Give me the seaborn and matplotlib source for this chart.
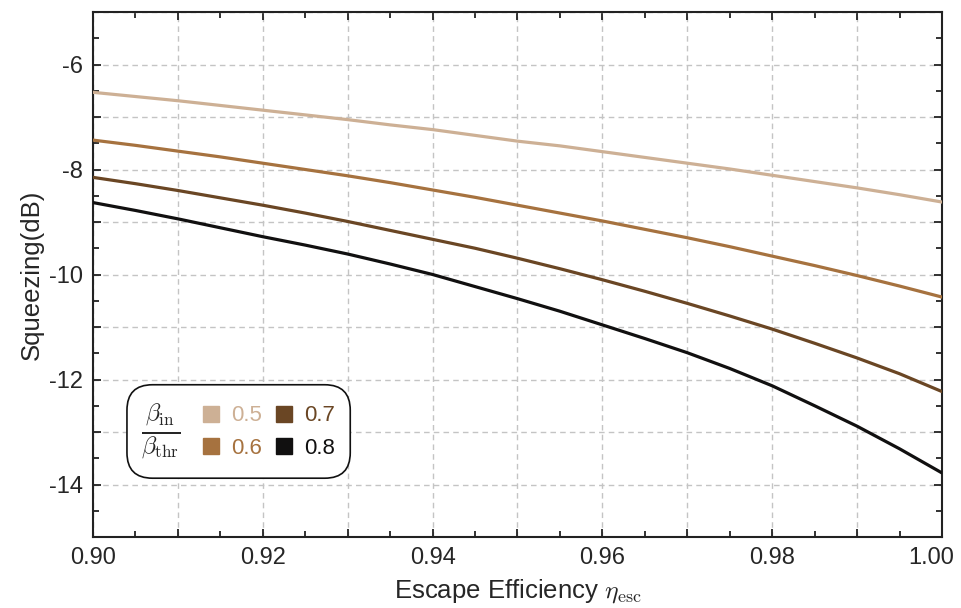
import numpy as np
import pandas as pd
import matplotlib
matplotlib.use("Agg")
import matplotlib.pyplot as plt
from matplotlib.ticker import MultipleLocator, FuncFormatter
from matplotlib.patches import FancyBboxPatch
from matplotlib.lines import Line2D
from matplotlib.transforms import ScaledTranslation
import seaborn as sns

# Escape efficiency samples (step 0.005)
eta_esc = [0.900, 0.905, 0.910, 0.915, 0.920, 0.925, 0.930, 0.935, 0.940, 0.945,
           0.950, 0.955, 0.960, 0.965, 0.970, 0.975, 0.980, 0.985, 0.990, 0.995,
           1.000]

# Squeezing (dB) for each pump ratio beta_in / beta_thr
sq_05 = [-6.53, -6.61, -6.69, -6.78, -6.87, -6.96, -7.05, -7.15, -7.24, -7.35,
         -7.46, -7.55, -7.66, -7.77, -7.88, -7.99, -8.11, -8.23, -8.35, -8.48,
         -8.62]
sq_06 = [-7.44, -7.54, -7.65, -7.76, -7.88, -8.00, -8.12, -8.25, -8.39, -8.53,
         -8.68, -8.83, -8.98, -9.14, -9.30, -9.47, -9.65, -9.83, -10.02, -10.22,
         -10.43]
sq_07 = [-8.15, -8.27, -8.40, -8.54, -8.68, -8.83, -8.99, -9.16, -9.33, -9.50,
         -9.69, -9.89, -10.10, -10.32, -10.55, -10.79, -11.04, -11.31, -11.59,
         -11.89, -12.23]
sq_08 = [-8.63, -8.78, -8.94, -9.11, -9.28, -9.44, -9.61, -9.80, -10.00, -10.23,
         -10.46, -10.70, -10.96, -11.22, -11.49, -11.79, -12.12, -12.50, -12.89,
         -13.32, -13.78]

ratios = ["0.5", "0.6", "0.7", "0.8"]
colors = ["#CDB095", "#A6723F", "#6A4624", "#111010"]

df = pd.DataFrame({
    "eta": eta_esc * 4,
    "sq": sq_05 + sq_06 + sq_07 + sq_08,
    "ratio": [r for r in ratios for _ in eta_esc],
})

sns.set_style("ticks")
plt.rcParams["font.family"] = ["Liberation Sans", "DejaVu Sans"]
plt.rcParams["mathtext.fontset"] = "cm"

fig = plt.figure(figsize=(9.62, 6.08), dpi=100)
ax = fig.add_axes([93 / 962, 1 - 537 / 608, 849 / 962, 525 / 608])

palette = dict(zip(ratios, colors))
sns.lineplot(data=df, x="eta", y="sq", hue="ratio", palette=palette,
             linewidth=2.3, ax=ax, legend=False, zorder=3)

ax.set_xlim(0.90, 1.00)
ax.set_ylim(-15, -5)

ax.xaxis.set_major_locator(MultipleLocator(0.01))
ax.xaxis.set_minor_locator(MultipleLocator(0.005))
ax.yaxis.set_major_locator(MultipleLocator(1))
ax.yaxis.set_minor_locator(MultipleLocator(0.5))


def xfmt(v, pos):
    k = int(round(v * 100))
    return f"{v:.2f}" if k % 2 == 0 else ""


def yfmt(v, pos):
    k = int(round(v))
    return f"{k}" if k % 2 == 0 else ""


ax.xaxis.set_major_formatter(FuncFormatter(xfmt))
ax.yaxis.set_major_formatter(FuncFormatter(yfmt))

ax.tick_params(which="both", direction="in", top=True, right=True,
               color="#222222", width=1.3)
ax.tick_params(which="major", length=6, labelsize=17, pad=7)
ax.tick_params(which="minor", length=4)

for s in ax.spines.values():
    s.set_color("#222222")
    s.set_linewidth(1.5)

ax.grid(True, which="major", linestyle=(0, (4, 3)), color="#c4c4c4",
        linewidth=1.0, zorder=0)
ax.set_axisbelow(True)

ax.set_xlabel(r"Escape Efficiency $\eta_{\rm esc}$", fontsize=18.5, labelpad=6)
ax.set_ylabel("Squeezing(dB)", fontsize=18.5, labelpad=4)

# Legend: rounded box with the pump-ratio fraction and colored entries
box = FancyBboxPatch((0.040, 0.112), 0.263, 0.178,
                     boxstyle="round,pad=0,rounding_size=0.03",
                     transform=ax.transAxes, facecolor="white",
                     edgecolor="#111111", linewidth=1.2, zorder=5,
                     mutation_aspect=849 / 525)
ax.add_patch(box)
ax.text(0.080, 0.200, r"$\frac{\beta_{\rm in}}{\beta_{\rm thr}}$",
        transform=ax.transAxes, fontsize=25, ha="center", va="center",
        zorder=6)

handles = [Line2D([], [], linestyle="none", marker="s", markersize=12,
                  markerfacecolor=c, markeredgecolor=c) for c in colors]
leg = ax.legend(handles, ratios, ncol=2, loc="center",
                bbox_to_anchor=(0.206, 0.200), frameon=False, fontsize=16,
                handlelength=0.9, handletextpad=0.45, columnspacing=0.55,
                labelspacing=0.5, labelcolor=colors)
leg.set_zorder(7)

# Keep the rightmost x tick label inside the figure
fig.canvas.draw()
for lab in ax.get_xticklabels():
    if lab.get_text() == "1.00":
        lab.set_transform(lab.get_transform()
                          + ScaledTranslation(-0.11, 0, fig.dpi_scale_trans))

fig.savefig("out.png", dpi=100)
